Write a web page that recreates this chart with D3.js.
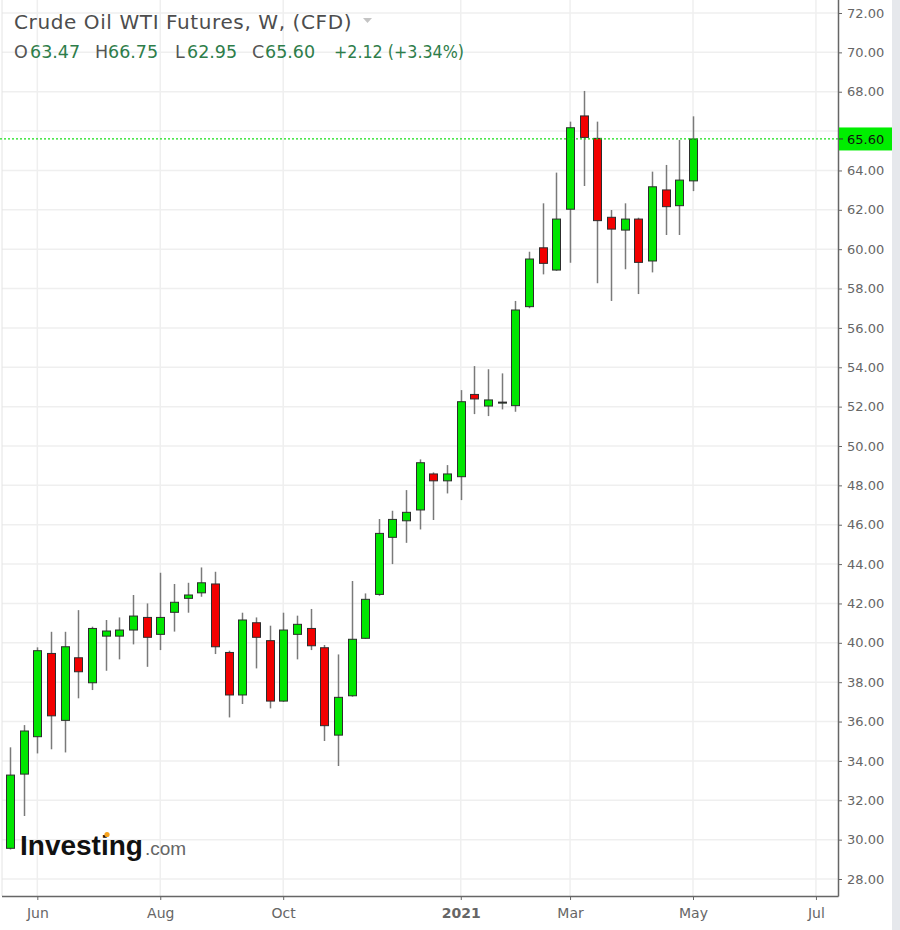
<!DOCTYPE html>
<html>
<head>
<meta charset="utf-8">
<script src="https://cdn.jsdelivr.net/npm/d3@7"></script>
<style>
  html, body { margin: 0; padding: 0; background: #fff; }
  svg { display: block; }
</style>
</head>
<body>
<div id="chart"></div>
<script>
// ----------------------------------
// DATA (weekly candles)
// ----------------------------------
const weeks = [
  "2020-05-17","2020-05-24","2020-05-31","2020-06-07","2020-06-14","2020-06-21","2020-06-28",
  "2020-07-05","2020-07-12","2020-07-19","2020-07-26","2020-08-02","2020-08-09","2020-08-16",
  "2020-08-23","2020-08-30","2020-09-06","2020-09-13","2020-09-20","2020-09-27","2020-10-04",
  "2020-10-11","2020-10-18","2020-10-25","2020-11-01","2020-11-08","2020-11-15","2020-11-22",
  "2020-11-29","2020-12-06","2020-12-13","2020-12-20","2020-12-27","2021-01-03","2021-01-10",
  "2021-01-17","2021-01-24","2021-01-31","2021-02-07","2021-02-14","2021-02-21","2021-02-28",
  "2021-03-07","2021-03-14","2021-03-21","2021-03-28","2021-04-04","2021-04-11","2021-04-18",
  "2021-04-25","2021-05-02"
];
const opens = [
  29.56,33.33,35.23,39.46,36.06,39.24,37.97,40.34,40.34,40.65,41.29,40.43,41.55,42.26,42.54,42.99,
  39.51,37.35,41.02,40.11,37.04,40.43,40.73,39.75,35.31,37.31,40.23,42.46,45.36,46.20,46.75,48.58,
  48.23,48.44,52.62,52.03,52.20,52.05,57.08,60.07,58.94,62.03,66.77,65.63,61.62,60.97,61.53,59.40,
  63.01,62.21,63.47
];
const highs = [
  34.69,35.82,39.77,40.56,40.56,41.66,40.82,41.16,41.29,42.43,42.00,43.56,42.99,43.05,43.83,43.61,
  39.60,41.53,41.29,40.87,41.53,41.38,41.72,39.89,39.41,43.14,42.51,46.29,46.71,47.76,49.32,48.66,
  49.03,52.84,54.06,53.90,53.69,57.37,59.87,62.33,63.89,66.48,68.04,66.48,61.99,62.33,61.60,63.94,
  64.28,65.55,66.75
];
const lows = [
  29.50,31.20,34.38,34.59,34.43,37.18,37.60,38.58,39.16,39.92,38.78,39.63,40.57,41.53,42.34,39.43,
  36.21,36.89,38.70,36.67,37.00,39.16,39.63,35.01,33.74,37.26,40.20,42.39,44.00,45.08,45.76,46.24,
  47.59,47.25,51.62,51.52,51.86,51.74,57.00,58.72,58.90,59.31,63.21,58.27,57.37,58.98,57.72,58.82,
  60.72,60.72,62.95
];
const closes = [
  33.28,35.52,39.60,36.29,39.80,38.53,40.73,40.60,40.65,41.36,40.28,41.29,42.06,42.43,43.05,39.80,
  37.35,41.16,40.28,37.04,40.65,40.94,39.85,35.79,37.23,40.18,42.21,45.56,46.27,46.63,49.15,48.23,
  48.58,52.25,52.39,52.34,52.23,56.91,59.50,59.28,61.53,66.17,65.68,61.45,61.02,61.53,59.33,63.17,
  62.16,63.51,65.60
];

const yTicks = [28, 30, 32, 34, 36, 38, 40, 42, 44, 46, 48, 50, 52, 54, 56, 58, 60, 62, 64, 66, 68, 70, 72];
const xTickDates = ["2020-05-31","2020-08-02","2020-10-04","2021-01-03","2021-02-28","2021-05-02","2021-07-04"];
const xTickLabels = ["Jun","Aug","Oct","2021","Mar","May","Jul"];
const lastPrice = 65.60;
const title = "Crude Oil WTI Futures, W, (CFD)";
const ohlcKeys = ["O", "H", "L", "C"];
const ohlcValues = ["63.47", "66.75", "62.95", "65.60"];
const changeText = "+2.12 (+3.34%)";

const parse = d3.timeParse("%Y-%m-%d");
const data = weeks.map((w, i) => ({
  date: parse(w), open: opens[i], high: highs[i], low: lows[i], close: closes[i]
}));

// ----------------------------------
// LAYOUT
// ----------------------------------
const width = 900, height = 930;
const plotRight = 838, plotBottom = 896;
const font = "'DejaVu Sans', Verdana, sans-serif";

const svg = d3.select("#chart").append("svg")
  .attr("width", width)
  .attr("height", height)
  .style("font-family", font);

const x = d3.scaleTime()
  .domain([data[0].date, data[data.length - 1].date])
  .range([10, 693]);

const y = d3.scaleLinear()
  .domain([28, 72])
  .range([879, 13]);

// right-hand grey strip
svg.append("rect")
  .attr("x", 892).attr("y", 0)
  .attr("width", 8).attr("height", height)
  .attr("fill", "#e6e8ec");

// ----------------------------------
// GRID
// ----------------------------------
const grid = svg.append("g").attr("class", "grid");
grid.selectAll("line.h")
  .data(yTicks)
  .join("line")
  .attr("class", "h")
  .attr("x1", 2).attr("x2", plotRight)
  .attr("y1", d => y(d)).attr("y2", d => y(d))
  .attr("stroke", "#efefef")
  .attr("stroke-width", 1.5);

grid.selectAll("line.v")
  .data(xTickDates.map(parse))
  .join("line")
  .attr("class", "v")
  .attr("x1", d => x(d)).attr("x2", d => x(d))
  .attr("y1", 0).attr("y2", plotBottom)
  .attr("stroke", "#efefef")
  .attr("stroke-width", 1.5);

// left border
svg.append("line")
  .attr("x1", 2).attr("x2", 2)
  .attr("y1", 0).attr("y2", plotBottom)
  .attr("stroke", "#e4e4e4");

// ----------------------------------
// LOGO
// ----------------------------------
const logo = svg.append("g").attr("class", "logo");
logo.append("text")
  .attr("x", 20).attr("y", 855)
  .style("font-family", "'Liberation Sans', Arial, sans-serif")
  .style("font-weight", "bold")
  .style("font-size", "28px")
  .attr("fill", "#111")
  .text("Investing");
logo.append("text")
  .attr("x", 145).attr("y", 855)
  .style("font-family", "'Liberation Sans', Arial, sans-serif")
  .style("font-size", "19px")
  .attr("fill", "#666")
  .text(".com");
logo.append("circle")
  .attr("cx", 107).attr("cy", 834.5).attr("r", 2.6)
  .attr("fill", "#f7a21b");

// ----------------------------------
// CANDLES
// ----------------------------------
const candles = svg.append("g").attr("class", "candles")
  .selectAll("g")
  .data(data)
  .join("g");

candles.append("line")
  .attr("x1", d => Math.round(x(d.date)) + 0.5)
  .attr("x2", d => Math.round(x(d.date)) + 0.5)
  .attr("y1", d => y(d.high))
  .attr("y2", d => y(d.low))
  .attr("stroke", "#7a7a7a")
  .attr("stroke-width", 1.5);

const bodyW = 8;
candles.append("rect")
  .attr("x", d => Math.round(x(d.date)) + 0.5 - bodyW / 2)
  .attr("y", d => y(Math.max(d.open, d.close)))
  .attr("width", bodyW)
  .attr("height", d => Math.max(1, Math.abs(y(d.open) - y(d.close))))
  .attr("fill", d => d.close >= d.open ? "#00e600" : "#f20000")
  .attr("stroke", "#2d2d2d")
  .attr("stroke-width", 1);

// ----------------------------------
// LAST PRICE LINE
// ----------------------------------
svg.append("line")
  .attr("x1", 0).attr("x2", plotRight)
  .attr("y1", y(lastPrice)).attr("y2", y(lastPrice))
  .attr("stroke", "#19e019")
  .attr("stroke-width", 1.3)
  .attr("stroke-dasharray", "2,2");

// ----------------------------------
// AXES
// ----------------------------------
// the 66.00 label sits under the last-price box, so it is not printed
const yAxis = d3.axisRight(y)
  .tickValues(yTicks.filter(d => Math.abs(y(d) - y(lastPrice)) > 14))
  .tickSize(4)
  .tickPadding(5)
  .tickFormat(d3.format(".2f"));

const yG = svg.append("g")
  .attr("transform", `translate(${plotRight},0)`)
  .call(yAxis);
yG.select(".domain").remove();
yG.selectAll("line").attr("stroke", "#666");
yG.selectAll("text")
  .attr("fill", "#666")
  .style("font-size", "13px")
  .style("font-family", font);

const xAxis = d3.axisBottom(x)
  .tickValues(xTickDates.map(parse))
  .tickSize(4)
  .tickPadding(8)
  .tickFormat((d, i) => xTickLabels[i]);

const xG = svg.append("g")
  .attr("transform", `translate(0,${plotBottom})`)
  .call(xAxis);
xG.select(".domain").remove();
xG.selectAll("line").attr("stroke", "#666");
xG.selectAll("text")
  .attr("fill", "#666")
  .style("font-size", "14px")
  .style("font-family", font)
  .style("font-weight", (d, i) => xTickLabels[i] === "2021" ? "bold" : "normal");

// axis frame lines
svg.append("line")
  .attr("x1", plotRight + 0.5).attr("x2", plotRight + 0.5)
  .attr("y1", 0).attr("y2", plotBottom + 0.5)
  .attr("stroke", "#666").attr("stroke-width", 1.5);
svg.append("line")
  .attr("x1", 2).attr("x2", plotRight + 0.5)
  .attr("y1", plotBottom + 0.5).attr("y2", plotBottom + 0.5)
  .attr("stroke", "#666").attr("stroke-width", 1.5);

// last price label
const lp = svg.append("g").attr("transform", `translate(${plotRight + 1},${y(lastPrice)})`);
lp.append("rect")
  .attr("x", 0).attr("y", -11.5)
  .attr("width", 53).attr("height", 23)
  .attr("fill", "#00ee00");
lp.append("line")
  .attr("x1", 0).attr("x2", 4).attr("y1", 0).attr("y2", 0)
  .attr("stroke", "#333");
lp.append("text")
  .attr("x", 8).attr("dy", "0.35em")
  .style("font-size", "13px")
  .attr("fill", "#111")
  .text(d3.format(".2f")(lastPrice));

// ----------------------------------
// HEADER
// ----------------------------------
svg.append("text")
  .attr("x", 14).attr("y", 29)
  .style("font-size", "20px")
  .style("letter-spacing", "0.6px")
  .attr("fill", "#4d4d4d")
  .text(title);
svg.append("path")
  .attr("d", "M363,18 L372,18 L367.5,23 Z")
  .attr("fill", "#c4c4c4");

const keyX = [14, 95, 175, 252];
const valX = [30, 108, 187, 265];
const hdr = svg.append("g").style("font-size", "17.5px");
hdr.selectAll("text.k")
  .data(ohlcKeys)
  .join("text")
  .attr("class", "k")
  .attr("x", (d, i) => keyX[i]).attr("y", 58)
  .attr("fill", "#555")
  .text(d => d);
hdr.selectAll("text.v")
  .data(ohlcValues)
  .join("text")
  .attr("class", "v")
  .attr("x", (d, i) => valX[i]).attr("y", 58)
  .attr("fill", "#2e7d4a")
  .text(d => d);
hdr.append("text")
  .attr("x", 334).attr("y", 58)
  .attr("fill", "#2e7d4a")
  .attr("textLength", 130)
  .attr("lengthAdjust", "spacingAndGlyphs")
  .text(changeText);
</script>
</body>
</html>
